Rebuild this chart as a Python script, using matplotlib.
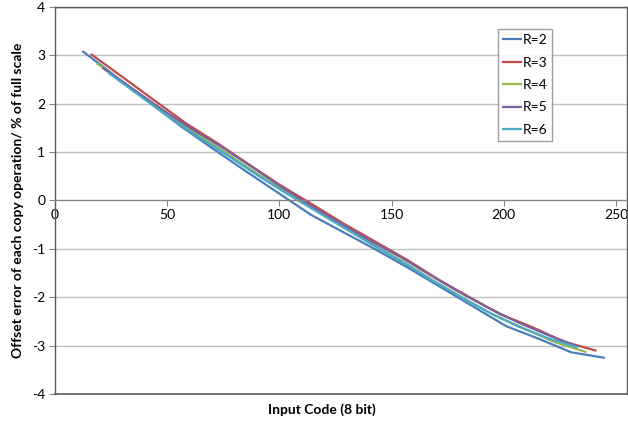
import matplotlib
matplotlib.use("Agg")
import matplotlib.pyplot as plt

plt.rcParams['font.family'] = ['Lato', 'DejaVu Sans']

# Data
x_r2 = [12.6, 27.1, 41.6, 56.1, 70.6, 85.1, 99.6, 114.1, 128.6, 143.1, 157.6, 172.1, 186.6, 201.1, 215.6, 230.1, 244.6]
y_r2 = [3.07, 2.56, 2.04, 1.53, 1.06, 0.60, 0.15, -0.30, -0.66, -1.02, -1.40, -1.80, -2.20, -2.60, -2.86, -3.14, -3.25]

x_r3 = [16.3, 30.3, 44.4, 58.4, 72.4, 86.5, 100.5, 114.5, 128.6, 142.6, 156.6, 170.7, 184.7, 198.7, 212.8, 226.8, 240.8]
y_r3 = [3.01, 2.54, 2.06, 1.59, 1.18, 0.74, 0.31, -0.08, -0.48, -0.85, -1.22, -1.63, -2.00, -2.36, -2.62, -2.92, -3.10]

x_r4 = [18.9, 32.5, 46.1, 59.7, 73.3, 86.9, 100.4, 114.0, 127.6, 141.2, 154.8, 168.4, 182.0, 195.6, 209.2, 222.8, 236.4]
y_r4 = [2.82, 2.37, 1.92, 1.47, 1.07, 0.65, 0.24, -0.15, -0.53, -0.90, -1.26, -1.65, -2.02, -2.37, -2.65, -2.93, -3.13]

x_r5 = [21.5, 34.7, 47.9, 61.1, 74.3, 87.5, 100.7, 113.9, 127.1, 140.3, 153.5, 166.7, 179.9, 193.1, 206.3, 219.5, 232.7]
y_r5 = [2.73, 2.30, 1.87, 1.47, 1.10, 0.70, 0.28, -0.11, -0.47, -0.83, -1.16, -1.53, -1.89, -2.22, -2.52, -2.78, -3.01]

x_r6 = [24.2, 37.2, 50.2, 63.2, 76.2, 89.2, 102.2, 115.2, 128.2, 141.2, 154.2, 167.2, 180.2, 193.2, 206.2, 219.2, 232.2]
y_r6 = [2.62, 2.18, 1.74, 1.33, 0.95, 0.55, 0.17, -0.19, -0.55, -0.91, -1.26, -1.63, -1.98, -2.31, -2.60, -2.84, -3.03]

labels = ["R=2", "R=3", "R=4", "R=5", "R=6"]
colors = ["#4A7EBB", "#BE4B48", "#98B954", "#7D60A0", "#46AAC5"]
x_ticks = [0, 50, 100, 150, 200, 250]
y_ticks = [-4, -3, -2, -1, 0, 1, 2, 3, 4]

fig = plt.figure(figsize=(6.28, 4.23), dpi=100)
ax = fig.add_axes([55/628, 1-394/423, 572/628, (394-6.7)/423])

series = [(x_r2, y_r2), (x_r3, y_r3), (x_r4, y_r4), (x_r5, y_r5), (x_r6, y_r6)]
for (xs, ys), lab, c in zip(series, labels, colors):
    ax.plot(xs, ys, color=c, lw=1.6, label=lab)

ax.set_xlim(0, 254.9)
ax.set_ylim(-4, 4)
ax.set_xticks(x_ticks)
ax.set_yticks(y_ticks)
ax.set_yticklabels([str(v) for v in y_ticks])
for v in y_ticks:
    if v not in (-4, 0, 4):
        ax.axhline(v, color="#C0C0C0", lw=1, zorder=0)
ax.axhline(4, color="#595959", lw=1, zorder=0)
ax.axhline(-4, color="#595959", lw=1.2, zorder=3, clip_on=False)

for s in ['left', 'right', 'top']:
    ax.spines[s].set_color("#595959")
    ax.spines[s].set_linewidth(1)
ax.spines['bottom'].set_position(('data', 0))
ax.spines['bottom'].set_color("#868686")
ax.spines['bottom'].set_linewidth(1)

ax.tick_params(axis='both', direction='out', length=4, color="#868686",
               labelsize=10, labelcolor="black")
ax.tick_params(axis='x', pad=2)
ax.tick_params(axis='y', pad=3)

ax.set_ylabel("Offset error of each copy operation/ % of full scale",
              fontsize=10, fontweight='bold', labelpad=6)
fig.text(322/628, 1-410/423, "Input Code (8 bit)", ha='center', va='center',
         fontsize=10, fontweight='bold')

leg = ax.legend(loc='upper left', bbox_to_anchor=(0.774, 0.9416), fontsize=10,
                frameon=True, fancybox=False, edgecolor="#868686",
                labelspacing=0.75, handlelength=1.3, handletextpad=0.15,
                borderpad=0.35, borderaxespad=0)
leg.get_frame().set_linewidth(1)

fig.savefig("out.png", dpi=100)
